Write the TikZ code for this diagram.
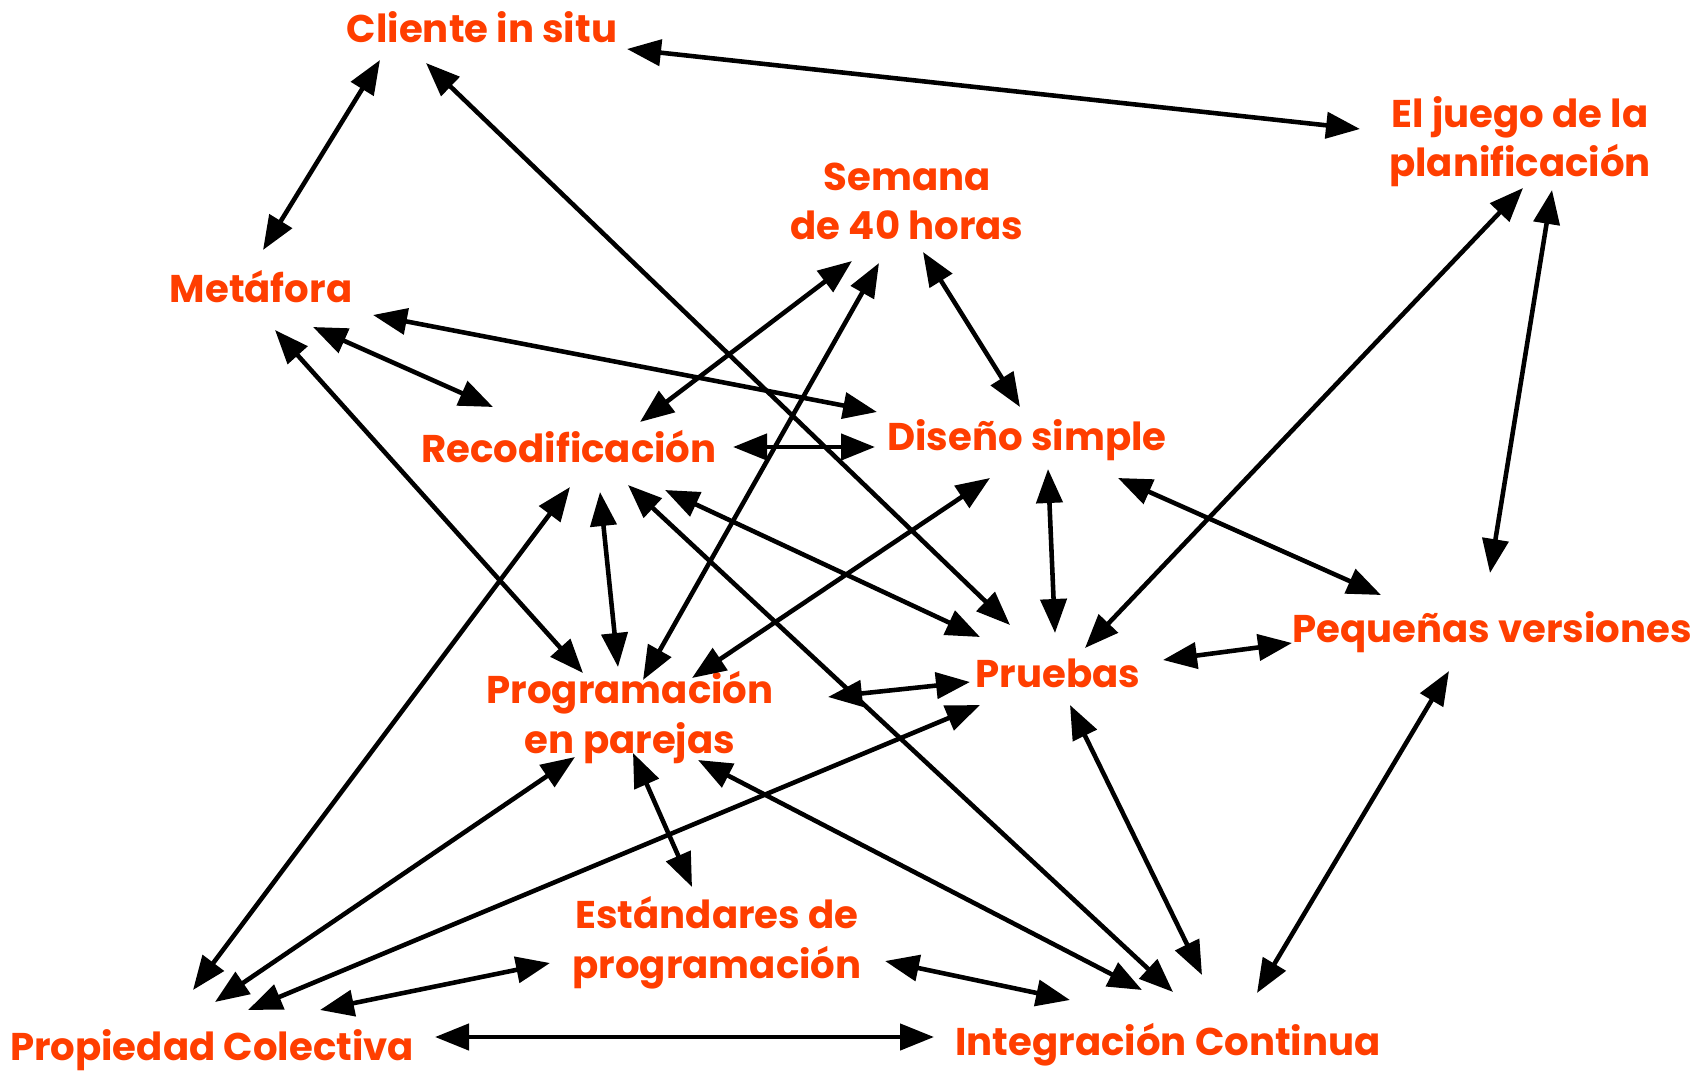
\documentclass[tikz,border=0pt]{standalone}
\usepackage{fontspec}
\setmainfont{Poppins}
\usetikzlibrary{arrows.meta}
\definecolor{xpred}{RGB}{255,62,0}
\begin{document}
\begin{tikzpicture}[x=0.02cm,y=-0.02cm,
  concept/.style={text=xpred,font=\fontsize{22}{28}\selectfont\bfseries,align=center,anchor=base,inner sep=0pt},
  arr/.style={line width=2.6pt,{Triangle[length=0.68cm,width=0.52cm]}-{Triangle[length=0.68cm,width=0.52cm]}}]
\fill[white] (0,0) rectangle (1702,1074);
\useasboundingbox (0,0) rectangle (1702,1074);

\node[concept] (cliente) at (482,43) {Cliente in situ};
\node[concept] (juego) at (1520,177) {El juego de la\\planificación};
\node[concept] (semana) at (907,240) {Semana\\de 40 horas};
\node[concept] (metafora) at (261,302) {Metáfora};
\node[concept] (recod) at (569,462) {Recodificación};
\node[concept] (diseno) at (1027,450) {Diseño simple};
\node[concept] (pequenas) at (1492,642) {Pequeñas versiones};
\node[concept] (pruebas) at (1058,687) {Pruebas};
\node[concept] (program) at (630,753) {Programación\\en parejas};
\node[concept] (estand) at (717,978) {Estándares de\\programación};
\node[concept] (propiedad) at (212,1060) {Propiedad Colectiva};
\node[concept] (integra) at (1168,1055) {Integración Continua};

\draw[arr] ([shift={(145,6)}]cliente.base) -- ([shift={(-160,-48)}]juego.base);
\draw[arr] ([shift={(-102,17)}]cliente.base) -- ([shift={(2,-52)}]metafora.base);
\draw[arr] ([shift={(-56,20)}]cliente.base) -- ([shift={(-48,-62)}]pruebas.base);
\draw[arr] ([shift={(3,11)}]juego.base) -- ([shift={(27,-39)}]pruebas.base);
\draw[arr] ([shift={(32,13)}]juego.base) -- ([shift={(-2,-69)}]pequenas.base);
\draw[arr] ([shift={(-55,21)}]semana.base) -- ([shift={(71,-40)}]recod.base);
\draw[arr] ([shift={(-28,23)}]semana.base) -- ([shift={(13,-73)}]program.base);
\draw[arr] ([shift={(16,12)}]semana.base) -- ([shift={(-7,-43)}]diseno.base);
\draw[arr] ([shift={(112,13)}]metafora.base) -- ([shift={(-150,-38)}]diseno.base);
\draw[arr] ([shift={(52,25)}]metafora.base) -- ([shift={(-76,-55)}]recod.base);
\draw[arr] ([shift={(14,28)}]metafora.base) -- ([shift={(-47,-80)}]program.base);
\draw[arr] ([shift={(164,-15)}]recod.base) -- ([shift={(-152,-3)}]diseno.base);
\draw[arr] ([shift={(31,30)}]recod.base) -- ([shift={(-12,-86)}]program.base);
\draw[arr] ([shift={(1,25)}]recod.base) -- ([shift={(-19,-70)}]propiedad.base);
\draw[arr] ([shift={(59,23)}]recod.base) -- ([shift={(5,-63)}]integra.base);
\draw[arr] ([shift={(96,28)}]recod.base) -- ([shift={(-78,-50)}]pruebas.base);
\draw[arr] ([shift={(21,19)}]diseno.base) -- ([shift={(-3,-54)}]pruebas.base);
\draw[arr] ([shift={(91,28)}]diseno.base) -- ([shift={(-111,-47)}]pequenas.base);
\draw[arr] ([shift={(-37,28)}]diseno.base) -- ([shift={(62,-75)}]program.base);
\draw[arr] ([shift={(105,-27)}]pruebas.base) -- ([shift={(-200,1)}]pequenas.base);
\draw[arr] ([shift={(-88,-5)}]pruebas.base) -- ([shift={(198,-56)}]program.base);
\draw[arr] ([shift={(-78,18)}]pruebas.base) -- ([shift={(36,-50)}]propiedad.base);
\draw[arr] ([shift={(12,18)}]pruebas.base) -- ([shift={(34,-80)}]integra.base);
\draw[arr] ([shift={(-43,29)}]pequenas.base) -- ([shift={(89,-62)}]integra.base);
\draw[arr] ([shift={(-55,4)}]program.base) -- ([shift={(3,-58)}]propiedad.base);
\draw[arr] ([shift={(3,0)}]program.base) -- ([shift={(-25,-91)}]estand.base);
\draw[arr] ([shift={(68,7)}]program.base) -- ([shift={(-26,-65)}]integra.base);
\draw[arr] ([shift={(-167,-15)}]estand.base) -- ([shift={(108,-50)}]propiedad.base);
\draw[arr] ([shift={(168,-17)}]estand.base) -- ([shift={(-98,-55)}]integra.base);
\draw[arr] ([shift={(223,-23)}]propiedad.base) -- ([shift={(-234,-18)}]integra.base);
\end{tikzpicture}
\end{document}
